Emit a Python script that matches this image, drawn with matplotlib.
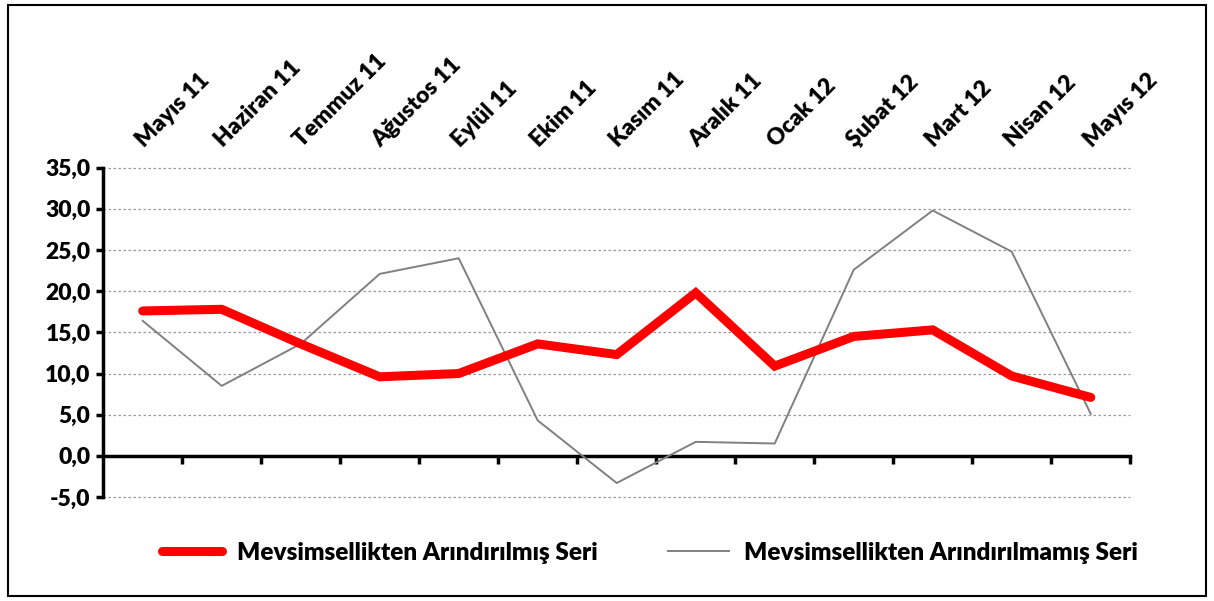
import matplotlib.pyplot as plt
from matplotlib.patches import Rectangle

# Veriler
aylar = ['Mayıs 11', 'Haziran 11', 'Temmuz 11', 'Ağustos 11', 'Eylül 11', 'Ekim 11',
         'Kasım 11', 'Aralık 11', 'Ocak 12', 'Şubat 12', 'Mart 12', 'Nisan 12', 'Mayıs 12']
arindirilmis = [17.6, 17.8, 13.6, 9.6, 10.0, 13.6, 12.3, 19.8, 10.9, 14.5, 15.3, 9.7, 7.1]
arindirilmamis = [16.4, 8.5, 13.6, 22.1, 24.0, 4.3, -3.3, 1.7, 1.5, 22.6, 29.8, 24.8, 5.1]
y_ticks = [-5, 0, 5, 10, 15, 20, 25, 30, 35]

plt.rcParams['font.family'] = ['Lato', 'DejaVu Sans']
plt.rcParams['font.weight'] = 'heavy'
fs = 16.5

fig = plt.figure(figsize=(12.14, 6.01), dpi=100)
ax = fig.add_axes([0.085, 0.173, 0.846, 0.548])

x = list(range(len(aylar)))
ax.plot(x, arindirilmis, color='#FF0000', linewidth=6.5, solid_capstyle='round',
        solid_joinstyle='miter', label='Mevsimsellikten Arındırılmış Seri', zorder=4)
ax.plot(x, arindirilmamis, color='#808080', linewidth=1.4,
        label='Mevsimsellikten Arındırılmamış Seri', zorder=3)

ax.set_xlim(-0.5, len(aylar) - 0.5)
ax.set_ylim(-5, 35)

# Izgara çizgileri (0 hariç)
for y in y_ticks:
    if y != 0:
        ax.axhline(y, color='#999999', linestyle=(0, (2, 2)), linewidth=0.9, zorder=1, clip_on=False)

ax.set_yticks(y_ticks)
ax.set_yticklabels([f'{v:.1f}'.replace('.', ',') for v in y_ticks], fontsize=fs, fontweight='heavy')
ax.tick_params(axis='y', direction='out', length=5, width=2.5, pad=4)

ax.set_xticks([i + 0.5 for i in x])
ax.set_xticklabels([])
ax.tick_params(axis='x', direction='out', length=6, width=2.5)

ax.spines['top'].set_visible(False)
ax.spines['right'].set_visible(False)
ax.spines['left'].set_linewidth(2.5)
ax.spines['bottom'].set_linewidth(2.5)
ax.spines['bottom'].set_position(('data', 0))

# Ay etiketleri üstte, 45 derece
for i, ay in enumerate(aylar):
    ax.text(i + 0.05, 1.05, ay, transform=ax.get_xaxis_transform(), rotation=45,
            rotation_mode='anchor', ha='left', va='bottom', fontsize=fs, fontweight='heavy')

leg = fig.legend(loc='center', bbox_to_anchor=(0.535, 0.08), ncol=2, frameon=False,
                 handlelength=2.5, handletextpad=0.6, columnspacing=2.9,
                 prop={'weight': 'heavy', 'size': 17.5})

fig.patches.append(Rectangle((0.007, 0.008), 0.986, 0.984, transform=fig.transFigure,
                             fill=False, edgecolor='black', linewidth=1.5))

fig.savefig('out.png', dpi=100)
